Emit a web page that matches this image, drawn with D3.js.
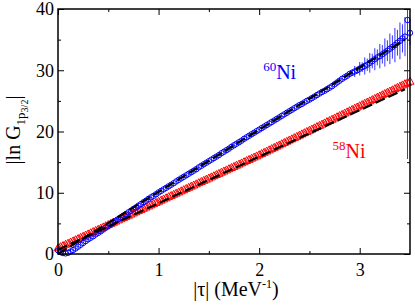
<!DOCTYPE html>
<html>
<head>
<meta charset="utf-8">
<script src="https://cdn.jsdelivr.net/npm/d3@7"></script>
<style>
  body { margin: 0; background: #fff; }
  text { font-family: "Liberation Serif", "Times New Roman", serif; }
</style>
</head>
<body>
<svg id="chart"></svg>
<script>
// |tau| grid (MeV^-1)
const tau = [
  0.000, 0.025, 0.050, 0.075, 0.100, 0.125, 0.150, 0.175, 0.200, 0.225,
  0.250, 0.275, 0.300, 0.325, 0.350, 0.375, 0.400, 0.425, 0.450, 0.475,
  0.500, 0.525, 0.550, 0.575, 0.600, 0.625, 0.650, 0.675, 0.700, 0.725,
  0.750, 0.775, 0.800, 0.825, 0.850, 0.875, 0.900, 0.925, 0.950, 0.975,
  1.000, 1.025, 1.050, 1.075, 1.100, 1.125, 1.150, 1.175, 1.200, 1.225,
  1.250, 1.275, 1.300, 1.325, 1.350, 1.375, 1.400, 1.425, 1.450, 1.475,
  1.500, 1.525, 1.550, 1.575, 1.600, 1.625, 1.650, 1.675, 1.700, 1.725,
  1.750, 1.775, 1.800, 1.825, 1.850, 1.875, 1.900, 1.925, 1.950, 1.975,
  2.000, 2.025, 2.050, 2.075, 2.100, 2.125, 2.150, 2.175, 2.200, 2.225,
  2.250, 2.275, 2.300, 2.325, 2.350, 2.375, 2.400, 2.425, 2.450, 2.475,
  2.500, 2.525, 2.550, 2.575, 2.600, 2.625, 2.650, 2.675, 2.700, 2.725,
  2.750, 2.775, 2.800, 2.825, 2.850, 2.875, 2.900, 2.925, 2.950, 2.975,
  3.000, 3.025, 3.050, 3.075, 3.100, 3.125, 3.150, 3.175, 3.200, 3.225,
  3.250, 3.275, 3.300, 3.325, 3.350, 3.375, 3.400, 3.425, 3.450, 3.475,
  3.500
];

// 60Ni |ln G| (blue circles)
const ni60 = [
  0.6, 0.3, 0.15, 0.1, 0.2, 0.4, 0.65, 0.9, 1.2, 1.5,
  1.8, 2.1, 2.4, 2.65, 2.9, 3.2, 3.45, 3.7, 4.0, 4.3,
  4.55, 4.85, 5.1, 5.4, 5.7, 5.95, 6.25, 6.5, 6.8, 7.05,
  7.35, 7.6, 7.9, 8.15, 8.45, 8.7, 9.0, 9.25, 9.5, 9.75,
  10.05, 10.3, 10.55, 10.8, 11.05, 11.3, 11.55, 11.85, 12.1, 12.35,
  12.6, 12.85, 13.1, 13.35, 13.6, 13.85, 14.15, 14.4, 14.65, 14.9,
  15.15, 15.4, 15.65, 15.9, 16.15, 16.45, 16.7, 16.95, 17.2, 17.5,
  17.75, 18.0, 18.25, 18.5, 18.8, 19.05, 19.3, 19.55, 19.8, 20.05,
  20.3, 20.55, 20.8, 21.05, 21.3, 21.55, 21.8, 22.05, 22.3, 22.55,
  22.8, 23.05, 23.3, 23.55, 23.8, 24.05, 24.3, 24.5, 24.75, 25.0,
  25.2, 25.45, 25.7, 25.95, 26.2, 26.45, 26.65, 26.9, 27.15, 27.4,
  27.7, 28.0, 28.3, 28.6, 28.85, 29.1, 29.4, 29.6, 29.8, 30.0,
  30.25, 30.5, 30.7, 30.9, 31.2, 31.5, 31.8, 32.1, 32.3, 32.6,
  32.9, 33.2, 33.5, 33.8, 34.1, 34.5, 34.8, 35.2, 35.5, 38.2,
  36.1
];

// 60Ni error bars (half length)
const ni60Err = [
  0, 0, 0, 0, 0, 0, 0, 0, 0, 0,
  0, 0, 0, 0, 0, 0, 0, 0, 0, 0,
  0, 0, 0, 0, 0, 0, 0, 0, 0, 0,
  0, 0, 0, 0, 0, 0, 0, 0, 0, 0,
  0, 0, 0, 0, 0, 0, 0, 0, 0, 0,
  0, 0, 0, 0, 0, 0, 0, 0, 0, 0,
  0, 0, 0, 0, 0, 0, 0, 0, 0, 0,
  0, 0, 0, 0, 0, 0, 0, 0, 0, 0,
  0, 0, 0, 0, 0, 0, 0, 0, 0, 0,
  0, 0, 0, 0, 0, 0, 0, 0, 0, 0,
  0, 0, 0, 0, 0, 0, 0, 0, 0, 0,
  0, 0, 0, 0, 0, 0, 0.3, 0.5, 0.9, 0.6,
  1.1, 0.8, 1.4, 1.0, 1.6, 1.2, 1.8, 1.3, 2.0, 1.5,
  2.3, 1.7, 2.5, 1.9, 2.8, 2.1, 3.0, 2.3, 3.2, 22.7,
  2.0
];

// 58Ni |ln G| (red triangles)
const ni58 = [
  0.9, 1.09, 1.28, 1.47, 1.66, 1.85, 2.04, 2.23, 2.42, 2.61,
  2.8, 2.99, 3.18, 3.37, 3.56, 3.75, 3.94, 4.13, 4.32, 4.51,
  4.7, 4.89, 5.08, 5.27, 5.46, 5.65, 5.84, 6.03, 6.22, 6.41,
  6.6, 6.79, 6.98, 7.17, 7.36, 7.55, 7.74, 7.93, 8.12, 8.31,
  8.5, 8.69, 8.88, 9.07, 9.26, 9.45, 9.64, 9.83, 10.02, 10.21,
  10.4, 10.59, 10.78, 10.97, 11.16, 11.35, 11.54, 11.73, 11.92, 12.11,
  12.3, 12.49, 12.68, 12.87, 13.06, 13.25, 13.44, 13.63, 13.82, 14.01,
  14.2, 14.39, 14.58, 14.77, 14.96, 15.15, 15.34, 15.53, 15.72, 15.91,
  16.1, 16.3, 16.5, 16.7, 16.9, 17.1, 17.3, 17.5, 17.7, 17.9,
  18.1, 18.3, 18.5, 18.7, 18.9, 19.1, 19.3, 19.5, 19.7, 19.9,
  20.1, 20.3, 20.5, 20.7, 20.9, 21.1, 21.3, 21.5, 21.7, 21.9,
  22.1, 22.3, 22.5, 22.7, 22.9, 23.1, 23.3, 23.5, 23.7, 23.9,
  24.1, 24.3, 24.5, 24.7, 24.9, 25.1, 25.3, 25.5, 25.7, 25.9,
  26.1, 26.3, 26.5, 26.7, 26.9, 27.1, 27.3, 27.5, 27.7, 27.9,
  28.1
];

// dashed linear fits (end points)
const fitTau = [0, 3.45];
const fit60 = [0, 35.0];
const fit58 = [0.7, 26.9];

// ticks
const xTicks = [0, 1, 2, 3];
const xMinor = [0.5, 1.5, 2.5];
const yTicks = [0, 10, 20, 30, 40];
const yMinor = [5, 15, 25, 35];

// Set up margins and dimensions
const margin = { top: 9, right: 5, bottom: 51, left: 58 };
const width = 415 - margin.left - margin.right;
const height = 305 - margin.top - margin.bottom;

const svgRoot = d3.select("#chart")
  .attr("width", 415)
  .attr("height", 305);

const svg = svgRoot.append("g")
  .attr("transform", "translate(" + margin.left + "," + margin.top + ")");

const xScale = d3.scaleLinear().domain([0, 3.5]).range([0, width]);
const yScale = d3.scaleLinear().domain([0, 40]).range([height, 0]);

// axes: major ticks with labels, inward ticks on all sides
function styleAxis(g) {
  g.select(".domain").remove();
  g.selectAll("line").attr("stroke", "#000").attr("stroke-width", 1);
  g.selectAll("text").attr("fill", "#000").style("font-size", "18px")
    .style("font-family", "'Liberation Serif', serif");
}

svg.append("g")
  .attr("transform", "translate(0," + height + ")")
  .call(d3.axisBottom(xScale).tickValues(xTicks).tickSize(-6).tickPadding(9).tickFormat(d3.format("d")))
  .call(styleAxis);
svg.append("g")
  .attr("transform", "translate(0," + height + ")")
  .call(d3.axisBottom(xScale).tickValues(xMinor).tickSize(-3).tickFormat(""))
  .call(styleAxis);
svg.append("g")
  .call(d3.axisTop(xScale).tickValues(xTicks).tickSize(-6).tickFormat(""))
  .call(styleAxis);
svg.append("g")
  .call(d3.axisTop(xScale).tickValues(xMinor).tickSize(-3).tickFormat(""))
  .call(styleAxis);

svg.append("g")
  .call(d3.axisLeft(yScale).tickValues(yTicks).tickSize(-6).tickPadding(4).tickFormat(d3.format("d")))
  .call(styleAxis);
svg.append("g")
  .call(d3.axisLeft(yScale).tickValues(yMinor).tickSize(-3).tickFormat(""))
  .call(styleAxis);
svg.append("g")
  .attr("transform", "translate(" + width + ",0)")
  .call(d3.axisRight(yScale).tickValues(yTicks).tickSize(-6).tickFormat(""))
  .call(styleAxis);
svg.append("g")
  .attr("transform", "translate(" + width + ",0)")
  .call(d3.axisRight(yScale).tickValues(yMinor).tickSize(-3).tickFormat(""))
  .call(styleAxis);

// data
const blue = tau.map((t, i) => ({ t: t, v: ni60[i], e: ni60Err[i] }));
const red = tau.map((t, i) => ({ t: t, v: ni58[i] }));

const plot = svg.append("g");

// error bars for 60Ni (clipped at the frame)
plot.selectAll(".err")
  .data(blue.filter(d => d.e > 0))
  .enter().append("line")
  .attr("class", "err")
  .attr("x1", d => xScale(d.t))
  .attr("x2", d => xScale(d.t))
  .attr("y1", d => yScale(Math.min(40, d.v + d.e)))
  .attr("y2", d => yScale(Math.max(0, d.v - d.e)))
  .attr("stroke", "#0000ff")
  .attr("stroke-width", 0.8);

// 58Ni triangles
const tri = d3.symbol().type(d3.symbolTriangle).size(28);
plot.selectAll(".tri")
  .data(red)
  .enter().append("path")
  .attr("class", "tri")
  .attr("d", tri)
  .attr("transform", d => "translate(" + xScale(d.t) + "," + yScale(d.v) + ")")
  .attr("fill", "none")
  .attr("stroke", "#ff0000")
  .attr("stroke-width", 1);

// 60Ni circles
plot.selectAll(".circ")
  .data(blue)
  .enter().append("circle")
  .attr("class", "circ")
  .attr("cx", d => xScale(d.t))
  .attr("cy", d => yScale(d.v))
  .attr("r", 2.7)
  .attr("fill", "none")
  .attr("stroke", "#0000ff")
  .attr("stroke-width", 1);

// dashed fit lines
const line = d3.line().x(d => xScale(d[0])).y(d => yScale(d[1]));
[fit60, fit58].forEach(f => {
  plot.append("path")
    .datum(fitTau.map((t, i) => [t, f[i]]))
    .attr("d", line)
    .attr("fill", "none")
    .attr("stroke", "#000")
    .attr("stroke-width", 2.2)
    .attr("stroke-dasharray", "10,4");
});

// frame
svg.append("rect")
  .attr("width", width)
  .attr("height", height)
  .attr("fill", "none")
  .attr("stroke", "#000")
  .attr("stroke-width", 1.5);

// isotope labels
const lab60 = svg.append("text")
  .attr("x", xScale(2.04))
  .attr("y", yScale(28.6))
  .attr("fill", "#0000ff")
  .style("font-size", "20px");
lab60.append("tspan").text("60").style("font-size", "13px").attr("dy", "-8");
lab60.append("tspan").text("Ni").attr("dy", "8");

const lab58 = svg.append("text")
  .attr("x", xScale(2.73))
  .attr("y", yScale(15.6))
  .attr("fill", "#ff0000")
  .style("font-size", "20px");
lab58.append("tspan").text("58").style("font-size", "13px").attr("dy", "-8");
lab58.append("tspan").text("Ni").attr("dy", "8");

// axis titles
const xt = svgRoot.append("text")
  .attr("x", 236)
  .attr("y", 296)
  .attr("text-anchor", "middle")
  .style("font-size", "20px");
xt.append("tspan").text("|\u03c4| (MeV");
xt.append("tspan").text("-1").style("font-size", "12px").attr("dy", "-8");
xt.append("tspan").text(")").attr("dy", "8");

const yt = svgRoot.append("text")
  .attr("transform", "translate(20,130) rotate(-90)")
  .attr("text-anchor", "middle")
  .style("font-size", "20px");
yt.append("tspan").text("|ln G");
yt.append("tspan").text("1p").style("font-size", "13px").attr("dy", "5");
yt.append("tspan").text("3/2").style("font-size", "10px").attr("dy", "3");
yt.append("tspan").text("|").attr("dy", "-8");
</script>
</body>
</html>
